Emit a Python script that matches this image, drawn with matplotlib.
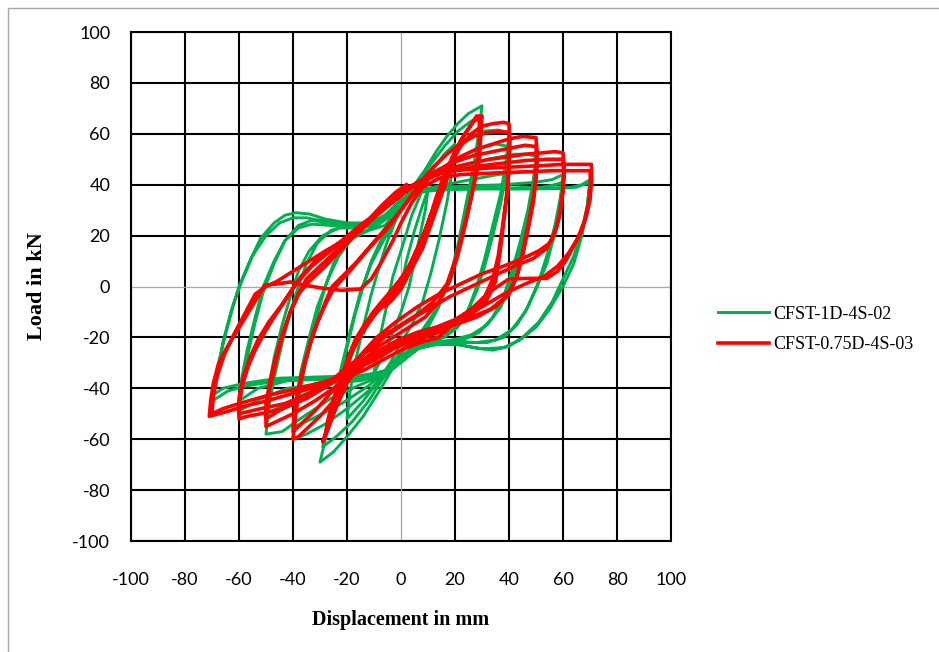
import numpy as np
import matplotlib.pyplot as plt
from matplotlib.patches import Rectangle

plt.rcParams['axes.unicode_minus'] = False

# hysteresis loops, one list of (displacement mm, load kN) points per cycle
g10 = [(0, 0), (2, 10), (5, 22), (8, 32), (10, 38), (9, 30), (7, 20), (5, 10), (3, 0), (0, -10),
       (-3, -18), (-6, -26), (-10, -34), (-9, -26), (-7, -16), (-5, -6), (-3, 4), (0, 14)]
g20 = [(0, 14), (4, 28), (8, 38), (12, 46), (16, 52), (20, 56), (19, 46), (17, 33), (14, 18), (11, 5),
       (8, -6), (4, -15), (0, -22), (-4, -30), (-9, -38), (-14, -45), (-20, -52), (-19, -42), (-17, -30),
       (-14, -16), (-11, -3), (-8, 8), (-5, 18), (-2, 26), (1, 33)]
g30 = [(1, 33), (5, 40), (9, 46), (13, 53), (17, 59), (21, 64), (25, 68), (30, 71), (29, 62), (27, 48),
       (24, 32), (21, 16), (18, 3), (14, -8), (10, -16), (5, -21), (1, -25), (-3, -32), (-8, -41),
       (-14, -51), (-20, -59), (-25, -65), (-30, -69), (-28, -60), (-26, -50), (-23, -37), (-20, -24),
       (-17, -11), (-14, 0), (-11, 10), (-7, 19), (-3, 27), (1, 34)]
g30b = [(1, 34), (6, 41), (11, 48), (16, 55), (21, 61), (26, 65), (30, 67), (29, 57), (27, 43), (24, 28),
        (21, 13), (17, 1), (13, -9), (8, -17), (3, -22), (-1, -27), (-6, -35), (-12, -45), (-18, -53),
        (-24, -59), (-29, -63), (-27, -53), (-24, -40), (-21, -27), (-18, -14), (-15, -2), (-11, 9),
        (-7, 17), (-3, 25), (1, 33)]
g40 = [(1, 33), (6, 40), (12, 47), (18, 53), (24, 58), (30, 61), (36, 61.5), (40, 60), (39, 50), (37, 37),
       (34, 24), (31, 11), (28, 0), (25, -9), (21, -16), (16, -20), (10, -22), (4, -24), (0, -28),
       (-5, -34), (-12, -41), (-20, -48), (-28, -54), (-35, -58), (-40, -60), (-39, -50), (-37, -37),
       (-34, -24), (-31, -11), (-28, 0), (-25, 9), (-21, 17), (-16, 21), (-10, 23), (-5, 27), (0, 33)]
g40b = [(0, 33), (6, 39), (13, 45), (20, 50), (28, 54), (35, 56), (40, 55), (39, 45), (37, 33), (34, 20),
        (31, 8), (28, -2), (24, -11), (19, -17), (13, -20), (7, -22), (2, -26), (-4, -32), (-12, -39),
        (-22, -46), (-31, -51), (-37, -54), (-40, -55), (-39, -45), (-37, -33), (-34, -20), (-31, -8),
        (-27, 3), (-23, 12), (-18, 19), (-12, 22), (-6, 24), (-2, 29), (2, 34)]
g50 = [(2, 34), (8, 39), (15, 43), (23, 47), (32, 50), (42, 52), (47, 52), (50, 51), (49, 42), (47, 30),
       (44, 17), (41, 6), (38, -4), (34, -12), (29, -18), (23, -21), (16, -22), (9, -23), (3, -26),
       (-1, -30), (-7, -35), (-16, -39), (-26, -44), (-36, -51), (-44, -57), (-50, -58), (-49, -48),
       (-47, -36), (-44, -22), (-41, -10), (-38, 0), (-35, 9), (-31, 17), (-26, 22), (-20, 24),
       (-13, 24), (-7, 26), (-2, 31), (2, 35)]
g50b = [(2, 35), (8, 38), (16, 40), (26, 42), (36, 44), (45, 45), (50, 45), (49, 36), (47, 25), (44, 13),
        (41, 2), (37, -8), (32, -15), (26, -19), (19, -21), (12, -22), (5, -24), (0, -28), (-6, -33),
        (-15, -36), (-25, -38), (-35, -42), (-44, -47), (-50, -50), (-49, -40), (-47, -28), (-44, -15),
        (-41, -4), (-38, 6), (-34, 14), (-29, 20), (-23, 23), (-16, 23), (-9, 24), (-3, 29), (1, 34)]
g60 = [(1, 34), (6, 38), (14, 39), (25, 39.5), (38, 40), (50, 41), (56, 42), (60, 44), (59, 35), (57, 24),
       (54, 12), (51, 2), (47, -8), (43, -15), (38, -20), (32, -22), (25, -22), (18, -22), (11, -22.5),
       (5, -24), (0, -29), (-6, -34), (-15, -37), (-28, -38), (-42, -40), (-52, -44), (-60, -49),
       (-59, -40), (-57, -28), (-54, -14), (-51, -2), (-47, 9), (-43, 18), (-38, 24), (-33, 26),
       (-27, 25), (-20, 24), (-12, 24), (-6, 27), (-1, 33)]
g60b = [(-1, 33), (4, 37), (12, 38.5), (25, 38.5), (40, 38.5), (52, 39), (57, 40), (60, 41), (59, 32),
        (57, 21), (54, 9), (50, -1), (46, -10), (41, -17), (35, -21), (28, -22), (20, -21.5), (12, -22),
        (6, -23.5), (1, -28), (-5, -33), (-14, -35.5), (-28, -36), (-42, -37), (-53, -40), (-60, -45),
        (-59, -36), (-57, -25), (-54, -12), (-51, 0), (-47, 10), (-43, 18), (-38, 23), (-33, 24.5),
        (-26, 24), (-18, 23.5), (-11, 24), (-5, 28), (0, 34)]
g70 = [(0, 34), (5, 37), (12, 38.5), (25, 38.7), (40, 38.7), (55, 38.7), (63, 39), (67, 40), (70, 42),
       (69, 32), (67, 22), (64, 12), (60, 3), (56, -6), (51, -14), (45, -20), (40, -23.5), (34, -25),
       (27, -24), (20, -22.5), (12, -23), (6, -24.5), (1, -29), (-5, -34), (-15, -36), (-30, -36.5),
       (-45, -37), (-57, -39), (-64, -41), (-70, -45), (-68, -34), (-66, -22), (-63, -10), (-60, 0),
       (-56, 10), (-52, 19), (-47, 25), (-43, 28), (-39, 29), (-34, 28.5), (-28, 26.5), (-20, 25),
       (-12, 25), (-6, 28), (0, 34)]
g70b = [(0, 34), (6, 37), (15, 38), (30, 38.3), (45, 38.3), (58, 38.5), (65, 39), (70, 41), (69, 31),
        (67, 20), (64, 9), (60, 0), (55, -9), (50, -16), (44, -21), (38, -24), (30, -24.5), (22, -23),
        (14, -22.5), (7, -24), (2, -28), (-4, -33), (-15, -35), (-30, -35.5), (-45, -36), (-58, -38),
        (-66, -40), (-70, -43), (-68, -32), (-65, -19), (-62, -7), (-59, 2), (-55, 12), (-50, 20),
        (-45, 25), (-40, 27), (-35, 27), (-28, 25.5), (-20, 24.5), (-12, 24.5), (-6, 27), (-1, 33)]

r05 = [(0, 0), (2, 5), (4, 9), (6, 13), (4, 8), (2, 3), (0, -1), (-3, -5), (-6, -8), (-4, -5), (-2, -2), (0, 1)]
r10 = [(0, 1), (3, 6), (6, 13), (8, 18), (10, 23), (11, 27), (9, 21), (7, 15), (4, 8), (1, 2), (-3, -4),
       (-7, -8), (-11, -12), (-13, -16), (-11, -11), (-8, -7), (-4, -2), (0, 3)]
r10b = [(0, 3), (3, 8), (6, 14), (9, 21), (11, 28), (9, 22), (6, 15), (3, 8), (0, 2), (-4, -3), (-8, -8),
        (-12, -13), (-14, -18), (-12, -13), (-9, -9), (-5, -4), (-1, 1), (0, 3)]
r20 = [(0, 3), (4, 9), (8, 18), (11, 27), (13, 34), (15, 40), (17, 45), (19, 50), (17, 42), (14, 33),
       (11, 24), (8, 15), (4, 7), (0, 1), (-5, -5), (-10, -10), (-14, -17), (-18, -24), (-21, -33),
       (-22, -40), (-20, -32), (-17, -22), (-13, -15), (-8, -8), (-3, -2), (1, 4)]
r20b = [(1, 4), (4, 10), (7, 17), (10, 25), (12, 31), (14, 37), (16, 43), (18, 48), (16, 40), (13, 31),
        (10, 22), (7, 14), (3, 6), (-1, 0), (-6, -6), (-11, -12), (-15, -18), (-19, -27), (-22, -37),
        (-20, -30), (-16, -21), (-12, -14), (-7, -7), (-2, -1), (1, 4)]
r30 = [(1, 4), (5, 10), (8, 18), (11, 27), (13, 34), (16, 42), (19, 50), (22, 57), (25, 62), (28, 67),
       (30, 67), (29.5, 58), (29, 50), (27, 40), (24, 25), (21, 12), (18, 2), (14, -6), (9, -12),
       (3, -16), (-3, -20), (-9, -24), (-15, -30), (-20, -38), (-24, -47), (-27, -56), (-29, -61),
       (-28, -58), (-26, -50), (-23, -39), (-20, -29), (-17, -21), (-13, -14), (-8, -8), (-3, -1), (2, 6)]
r30b = [(2, 6), (5, 11), (8, 19), (11, 28), (13, 35), (15, 41), (19, 51), (23, 59), (27, 65), (29, 66),
        (29, 55), (28, 46), (26, 35), (23, 22), (20, 10), (17, 1), (12, -6), (6, -11), (0, -15),
        (-6, -19), (-12, -24), (-17, -31), (-21, -40), (-25, -50), (-28, -58), (-27, -52), (-25, -44),
        (-22, -36), (-19, -27), (-15, -19), (-11, -13), (-6, -6), (-1, 1)]
r40 = [(-1, 1), (3, 7), (7, 15), (10, 24), (13, 33), (16, 42), (19, 49), (22, 55), (26, 60), (30, 63),
       (34, 64), (38, 64.5), (40, 64), (40.3, 57), (40, 48), (39.5, 38), (38, 25), (36.5, 12), (35, 2),
       (32, -5), (27, -10), (21, -14), (14, -17), (7, -19), (0, -22), (-7, -26), (-14, -31), (-20, -37),
       (-25, -45), (-30, -51), (-35, -56), (-38, -59), (-40, -60), (-39, -50), (-37.5, -40),
       (-35.5, -30), (-33, -20), (-30.5, -13), (-28, -6), (-25.5, 0), (-17, 9), (-8, 20), (0, 30)]
r40b = [(0, 30), (4, 36), (8, 42), (12, 47), (17, 52), (22, 56), (27, 59), (32, 60.5), (37, 61), (40, 60.5),
        (40.2, 54), (39.8, 45), (39, 35), (37.5, 23), (36, 12), (34, 3), (31, -4), (26, -9), (20, -13),
        (13, -16), (6, -18), (-1, -21), (-8, -25), (-15, -30), (-21, -36), (-27, -43), (-32, -49),
        (-36, -53), (-40, -57), (-39.5, -49), (-38, -40), (-36, -31), (-33.5, -22), (-31, -14), (-28, -7),
        (-25, -1), (-19, 6), (-11, 16), (-4, 24), (0, 30)]
r50 = [(0, 30), (5, 37), (10, 42), (16, 47), (22, 51), (28, 54), (34, 56), (40, 58), (45, 59), (50, 58.5),
       (50.5, 52), (50, 44), (49, 35), (47, 24), (45, 13), (43, 4), (40, -3), (35, -8), (28, -12),
       (20, -15), (12, -18), (5, -20), (-3, -24), (-10, -28), (-18, -34), (-25, -40), (-32, -45),
       (-40, -50), (-46, -53), (-50, -55), (-50, -50), (-48.5, -40), (-46.5, -30), (-44, -20),
       (-41, -10), (-38, -3), (-35, 3), (-30, 8), (-22, 16), (-14, 24), (-6, 31), (0, 36), (3, 39)]
r50b = [(3, 39), (8, 42), (14, 46), (20, 49), (27, 51.5), (34, 53), (41, 54.5), (46, 55.5), (50, 55),
        (50.3, 49), (50, 42), (49, 33), (47, 22), (45, 12), (42.5, 3), (39, -4), (33, -9), (26, -12),
        (18, -15), (10, -17), (2, -20), (-5, -24), (-12, -28), (-20, -34), (-28, -39), (-36, -44),
        (-44, -48), (-50, -52), (-50, -46), (-48.5, -37), (-46.5, -28), (-44, -19), (-41, -10),
        (-38, -3), (-34, 2), (-28, 8), (-20, 17), (-12, 25), (-5, 32), (0, 37), (3, 39)]
r60 = [(3, 39), (8, 42), (14, 45), (20, 47), (26, 48.5), (33, 50), (40, 51), (46, 52), (52, 52.5),
       (57, 53), (60, 52.5), (60.5, 46), (60, 38), (59, 30), (57.5, 23), (55, 17), (51, 14), (45, 11),
       (38, 8), (30, 5), (22, 1), (14, -3), (6, -8), (-2, -14), (-9, -20), (-15, -27), (-20, -33),
       (-27, -39), (-35, -44), (-44, -48), (-52, -50), (-57, -51), (-60, -52), (-60, -46), (-58.5, -38),
       (-56.5, -31), (-54, -25), (-51, -19), (-47, -12), (-42, -4), (-37, 4), (-30, 12), (-22, 18),
       (-14, 25), (-6, 31), (0, 36), (4, 39)]
r60b = [(4, 39), (9, 42), (15, 44.5), (22, 46), (30, 47.5), (38, 48.5), (46, 49.5), (54, 50), (60, 50),
        (60.3, 44), (59.8, 36), (58.8, 28), (57, 21), (54, 15), (49, 11), (42, 8), (34, 4), (26, 0),
        (18, -4), (10, -9), (2, -14), (-5, -19), (-12, -25), (-19, -31), (-26, -37), (-34, -42),
        (-43, -46), (-52, -48), (-60, -50), (-60, -44), (-58.5, -36), (-56, -28), (-53, -21), (-49, -14),
        (-44, -7), (-39, 1), (-33, 8), (-25, 15), (-17, 21), (-9, 28), (-2, 34), (4, 39)]
r70 = [(4, 39), (10, 43), (16, 45), (24, 46), (32, 46.5), (42, 47), (52, 47.5), (60, 48), (66, 48),
       (70.5, 48), (70.6, 42), (70, 34), (68.5, 27), (66.5, 21), (64, 16), (61, 10), (58, 6), (54, 3.2),
       (47, 3.2), (40, 3), (33, -2), (27, -8), (20, -14), (14, -20), (7, -22), (0, -25), (-7, -29),
       (-14, -33), (-21, -36), (-30, -39), (-40, -42), (-50, -45), (-58, -47), (-64, -49), (-71, -51),
       (-70.5, -45), (-69.5, -38), (-67.5, -30), (-64.5, -24), (-61, -18), (-57, -11), (-53, -4),
       (-50.5, 0.5), (-46, 1), (-41, 1.8), (-37, 0.8), (-30, -0.5), (-22, -1.5), (-15, -1), (-11, 3),
       (-7, 10), (-3, 18), (0, 25)]
r70b = [(0, 25), (4, 33), (8, 39), (14, 42.5), (22, 44), (32, 44.5), (44, 45), (56, 45.5), (64, 45.5),
        (70, 45.5), (70.2, 40), (69.5, 33), (68, 26), (65.5, 19), (62, 13), (58, 8), (53, 4), (46, 1),
        (38, -3), (30, -8), (22, -13), (14, -18), (6, -21), (-2, -24), (-10, -29), (-18, -33),
        (-27, -37), (-38, -40), (-50, -43), (-60, -46), (-66, -48), (-70, -50), (-69.5, -43), (-68, -35),
        (-65.5, -27), (-62, -19), (-58, -11), (-54, -3), (-50, 0), (-46, 2), (-40, 6), (-34, 10),
        (-28, 14), (-21, 18), (-14, 24), (-7, 32), (-2, 37), (2, 40)]

green_cycles = [g10, g20, g30, g30b, g40, g40b, g50, g50b, g60, g60b, g70, g70b]
red_cycles = [r05, r10, r10b, r20, r20b, r30, r30b, r40, r40b, r50, r50b, r60, r60b, r70, r70b]
labels = ['CFST-1D-4S-02', 'CFST-0.75D-4S-03']
ticks = list(range(-100, 101, 20))


def join(cycles):
    pts = np.array([p for c in cycles for p in c], dtype=float)
    return pts[:, 0], pts[:, 1]


fig = plt.figure(figsize=(9.39, 6.52), dpi=100)
ax = fig.add_axes([0.1395, 0.1702, 0.5751, 0.7807])

# outer chart frame
fig.patches.append(Rectangle((8 / 939, -0.1), 1.2, 1 - 8 / 652 + 0.1, transform=fig.transFigure,
                             fill=False, edgecolor='#a6a6a6', lw=1.0))

for v in ticks:
    if v == 0:
        ax.axvline(v, color='#a6a6a6', lw=0.9, zorder=1)
        ax.axhline(v, color='#a6a6a6', lw=0.9, zorder=1)
    else:
        ax.axvline(v, color='black', lw=1.5, zorder=1)
        ax.axhline(v, color='black', lw=1.5, zorder=1)

gx, gy = join(green_cycles)
rx, ry = join(red_cycles)
ax.plot(gx, gy, color='#00b050', lw=2.1, zorder=3, label=labels[0])
ax.plot(rx, ry, color='#ff0000', lw=2.6, zorder=4, label=labels[1])

ax.set_xlim(-100, 100)
ax.set_ylim(-100, 100)
ax.set_xticks(ticks)
ax.set_yticks(ticks)
ax.tick_params(length=0, labelsize=13)
ax.tick_params(axis='x', pad=22)
ax.tick_params(axis='y', pad=15)
for lab in ax.get_xticklabels() + ax.get_yticklabels():
    lab.set_fontfamily('Lato')
for s in ax.spines.values():
    s.set_color('black')
    s.set_linewidth(1.5)

ax.set_xlabel('Displacement in mm', fontfamily='Liberation Serif', fontweight='bold', fontsize=14.5,
              labelpad=16)
ax.set_ylabel('Load in kN', fontfamily='Liberation Serif', fontweight='bold', fontsize=16, labelpad=18)

fig.legend(loc='center left', bbox_to_anchor=(0.7646, 0.4946), frameon=False, borderpad=0,
           borderaxespad=0, handlelength=2.8, handletextpad=0.25, labelspacing=0.75,
           prop={'family': 'Liberation Serif', 'size': 13})

fig.savefig('out.png', dpi=100)
